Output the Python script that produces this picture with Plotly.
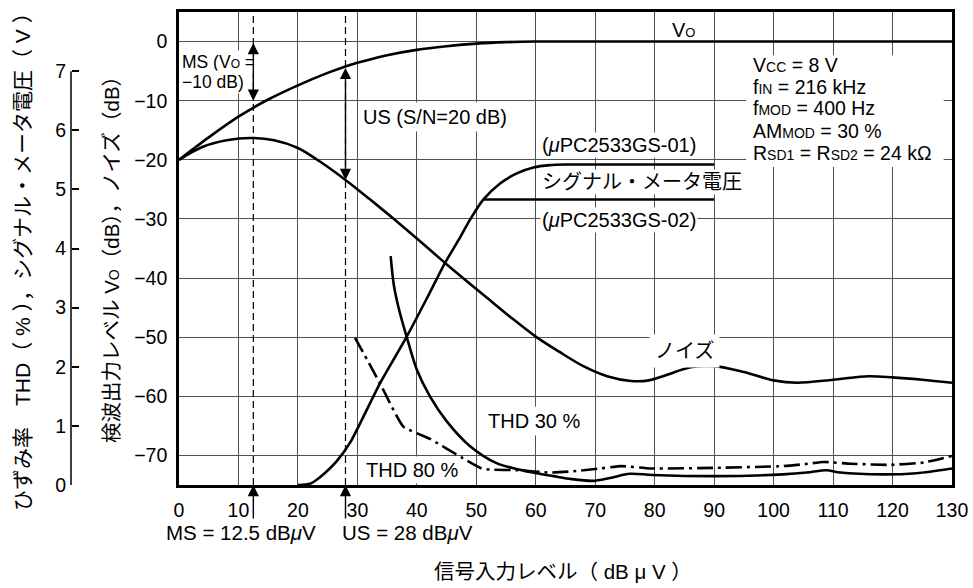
import numpy as np
import plotly.graph_objects as go

FONT = "Liberation Sans, Arial, Noto Sans CJK JP, sans-serif"

# ---- axes -------------------------------------------------------------
x_ticks = list(range(0, 131, 10))          # signal input level, dBμV
db_ticks = list(range(-70, 1, 10))         # detector output / noise, dB
db_labels = [str(v).replace("-", "\u2212") for v in db_ticks]
volt_ticks = list(range(0, 8))             # THD (%) / signal-meter voltage (V)

# ---- detector output level Vo (dB) ------------------------------------
vo_x = [0, 5, 10, 15, 20, 25, 28, 30, 35, 40, 45, 50, 55, 60, 70, 130]
vo_db = [-20, -16.2, -12.7, -9.8, -7.4, -5.3, -4.2, -3.6, -2.3, -1.4, -0.8,
         -0.35, -0.1, 0, 0, 0]

# ---- noise (dB) ---------------------------------------------------------
noise_x = [0, 4, 8, 12, 16, 20, 24, 28, 32, 36, 40, 44, 48, 52, 56, 60, 64,
           68, 72, 76, 79, 82, 86, 90, 95, 100, 104, 110, 116, 120, 125, 130]
noise_db = [-20, -17.8, -16.7, -16.3, -16.7, -18.0, -20.5, -23.4, -26.6,
            -29.9, -33.3, -36.8, -40.2, -43.5, -46.8, -49.9, -52.5, -54.9,
            -56.6, -57.4, -57.3, -56.4, -55.1, -54.9, -55.9, -57.3, -57.7,
            -57.2, -56.6, -56.8, -57.2, -57.7]

# ---- signal-meter voltage (V) ------------------------------------------
meter_rise_x = [20, 22, 23.1, 24.5, 26.5, 28.8, 33.8, 38.3, 41.7, 44.7, 47,
                48.9, 51.2]
meter_rise_v = [0, 0.02, 0.085, 0.2, 0.4, 0.72, 1.72, 2.51, 3.16, 3.75,
                4.14, 4.48, 4.83]
gs01_x = [54, 56.8, 59.6, 62.4, 65, 90]
gs01_v = [5.1, 5.27, 5.37, 5.41, 5.42, 5.42]
gs02_x = [51.2, 90]
gs02_v = [4.83, 4.83]

# ---- distortion THD (%) -------------------------------------------------
thd30_x = [35.6, 36.1, 36.9, 38.3, 40, 42.2, 45, 48.9, 53.4, 59, 63, 66,
           69.6, 72.5, 75.8, 79.6, 90.4, 101.6, 105.6, 108.9, 111.2, 118.4,
           124, 130]
thd30_v = [3.87, 3.4, 3.01, 2.5, 1.95, 1.5, 1.08, 0.66, 0.37, 0.22, 0.15,
           0.1, 0.07, 0.12, 0.19, 0.17, 0.15, 0.18, 0.21, 0.25, 0.21, 0.18,
           0.2, 0.28]
thd80_x = [29.6, 33.8, 37.7, 42.2, 47.8, 50.9, 52.5, 57, 62.4, 66, 70,
           74.4, 79.2, 90.4, 101.6, 105, 108.4, 113, 119.6, 125.2, 130]
thd80_v = [2.49, 1.72, 0.99, 0.78, 0.45, 0.28, 0.26, 0.25, 0.21, 0.23,
           0.27, 0.32, 0.28, 0.29, 0.32, 0.35, 0.39, 0.36, 0.34, 0.38, 0.49]

# ---- sensitivity markers -----------------------------------------------
ms_level = 12.5      # MS input level, dBμV
ms_vo = -10          # Vo defining MS, dB
us_level = 28        # US input level, dBμV

fig = go.Figure()
line = dict(color="black", width=2.6)

fig.add_trace(go.Scatter(x=vo_x, y=vo_db, mode="lines",
                         line=dict(line, shape="spline", smoothing=0.8)))
fig.add_trace(go.Scatter(x=noise_x, y=noise_db, mode="lines",
                         line=dict(line, shape="spline", smoothing=0.9)))
fig.add_trace(go.Scatter(x=meter_rise_x + gs01_x, y=meter_rise_v + gs01_v,
                         mode="lines", yaxis="y2",
                         line=dict(line, shape="spline", smoothing=0.7)))
fig.add_trace(go.Scatter(x=gs02_x, y=gs02_v, mode="lines", yaxis="y2",
                         line=line))
fig.add_trace(go.Scatter(x=thd30_x, y=thd30_v, mode="lines", yaxis="y2",
                         line=dict(line, shape="spline", smoothing=0.8)))
fig.add_trace(go.Scatter(x=thd80_x, y=thd80_v, mode="lines", yaxis="y2",
                         line=dict(line, shape="spline", smoothing=0.4,
                                   dash="16px,5px,3px,5px")))

# dashed verticals at MS and US
for lvl in (ms_level, us_level):
    fig.add_shape(type="line", xref="x", yref="paper", x0=lvl, x1=lvl,
                  y0=0, y1=1, line=dict(color="black", width=1.2,
                                        dash="7px,4px"), layer="above")

# left scale (THD / meter voltage) axis line, 0 .. 7
fig.add_shape(type="line", xref="paper", yref="y2", x0=71 / 952,
              x1=71 / 952, y0=volt_ticks[0], y1=volt_ticks[-1],
              line=dict(color="black", width=1.5))

# white panel behind the measurement conditions (hides the grid)
fig.add_shape(type="rect", xref="x", yref="y", x0=95.4, x1=128.6,
              y0=-21.2, y1=-2.3, fillcolor="white", line=dict(width=0),
              layer="between")

ann = []


def text(x, y, s, size=20, anchor="left", bg=None, pad=2, **kw):
    d = dict(x=x, y=y, xref="x", yref="y", text=s, showarrow=False,
             xanchor=anchor, yanchor="middle",
             font=dict(family=FONT, size=size, color="black"),
             borderpad=pad, **kw)
    if bg:
        d["bgcolor"] = bg
    ann.append(d)


def sub(s, size=13):
    return f'<span style="font-size:{size}px">{s}</span>'


text(84.8, 2.0, "V" + sub("O"), anchor="center")
text(0.2, -3.4, "MS (V" + sub("O", 12) + " =", size=17.5, bg="white", pad=1)
text(0.2, -6.8, "\u221210 dB)", size=17.5, bg="white", pad=1)
text(30.2, -12.7, "US (S/N=20 dB)", bg="white", pad=3)
text(60.7, -17.5, "(<i>μ</i>PC2533GS-01)", bg="white", pad=1)
text(60.7, -23.7, "シグナル・メータ電圧", bg="white", pad=1)
text(60.7, -30.1, "(<i>μ</i>PC2533GS-02)", bg="white", pad=1)
text(79.0, -52.4, "ノイズ", bg="white", pad=5)
text(51.3, -64.2, "THD 30 %", bg="white", pad=3)
text(31.0, -72.4, "THD 80 %", bg="white", pad=2)

# measurement conditions, one line each
cond = [
    "V" + sub("CC", 14) + " = 8 V",
    "f" + sub("IN", 14) + " = 216 kHz",
    "f" + sub("MOD", 14) + " = 400 Hz",
    "AM" + sub("MOD", 14) + " = 30 %",
    "R" + sub("SD1", 14) + " = R" + sub("SD2", 14) + " = 24 kΩ",
]
cond_y = [-3.9, -7.6, -11.3, -15.1, -18.8]
for s, yy in zip(cond, cond_y):
    text(96.0, yy, s, size=19.5)

# double arrows: MS (0 -> -10 dB) and US (Vo -> noise)
vo_us = float(np.interp(us_level, vo_x, vo_db))
noise_us = float(np.interp(us_level, noise_x, noise_db))
for x0, ya, yb in ((ms_level, 0, ms_vo), (us_level, vo_us, noise_us)):
    ann.append(dict(x=x0, y=yb, ax=x0, ay=ya, xref="x", yref="y", axref="x",
                    ayref="y", text="", showarrow=True, arrowside="end+start",
                    arrowhead=2, startarrowhead=2, arrowsize=1.6,
                    startarrowsize=1.6, arrowwidth=1.4, arrowcolor="black"))

# arrows under the input axis
for x0 in (ms_level, us_level):
    ann.append(dict(x=x0, y=-75, xref="x", yref="y", ax=0, ay=35,
                    text="", showarrow=True, arrowhead=2, arrowsize=1.6,
                    arrowwidth=1.4, arrowcolor="black"))

ann.append(dict(x=ms_level, y=-75, xref="x", yref="y", yshift=-47,
                text=f"MS = {ms_level} dB<i>μ</i>V", showarrow=False,
                xanchor="center", yanchor="middle", xshift=-12,
                font=dict(family=FONT, size=20.5, color="black")))
ann.append(dict(x=us_level, y=-75, xref="x", yref="y", yshift=-47,
                text=f"US = {us_level} dB<i>μ</i>V", showarrow=False,
                xanchor="left", yanchor="middle", xshift=-5,
                font=dict(family=FONT, size=20.5, color="black")))

# axis titles
ann.append(dict(x=563 / 952, y=-86 / 473, xref="paper", yref="paper",
                text="信号入力レベル（ dB μ V ）", showarrow=False,
                xanchor="center", yanchor="middle",
                font=dict(family=FONT, size=20.5, color="black")))
ann.append(dict(x=111 / 952, y=1 - (255 - 12) / 473, xref="paper",
                yref="paper", textangle=-90,
                text="検波出力レベル V" + sub("O", 14) + "（dB），ノイズ（dB）",
                showarrow=False, xanchor="center", yanchor="middle",
                font=dict(family=FONT, size=20.5, color="black")))
ann.append(dict(x=22 / 952, y=1 - (257 - 12) / 473, xref="paper",
                yref="paper", textangle=-90,
                text="ひずみ率　THD（ % ），シグナル・メータ電圧（ V ）",
                showarrow=False, xanchor="center", yanchor="middle",
                font=dict(family=FONT, size=21, color="black")))

grid = "#505050"
fig.update_layout(
    width=973, height=588, template="none",
    paper_bgcolor="white", plot_bgcolor="white", showlegend=False,
    margin=dict(l=0, r=21, t=12, b=103),
    font=dict(family=FONT, size=19, color="black"),
    annotations=ann,
    xaxis=dict(domain=[179 / 952, 1], range=[0, 130], tickvals=x_ticks,
               showgrid=True, gridcolor=grid, gridwidth=1, zeroline=False,
               showline=True, mirror=True, linecolor="black", linewidth=2.6,
               ticks="", ticklabelstandoff=6,
               tickfont=dict(family=FONT, size=19.5)),
    yaxis=dict(range=[-75, 5], tickvals=db_ticks, ticktext=db_labels,
               showgrid=True, gridcolor=grid, gridwidth=1, zeroline=False,
               showline=True, mirror=True, linecolor="black", linewidth=2.6,
               ticks="", ticklabelstandoff=5,
               tickfont=dict(family=FONT, size=19.5)),
    yaxis2=dict(range=[0, 8], tickvals=volt_ticks, overlaying="y",
                anchor="free", position=71 / 952, side="left",
                showgrid=False, zeroline=False, showline=False,
                ticks="inside", ticklen=7, tickwidth=1.5, tickcolor="black",
                ticklabelstandoff=5, tickfont=dict(family=FONT, size=19.5)),
)

fig.write_html("out.html")
